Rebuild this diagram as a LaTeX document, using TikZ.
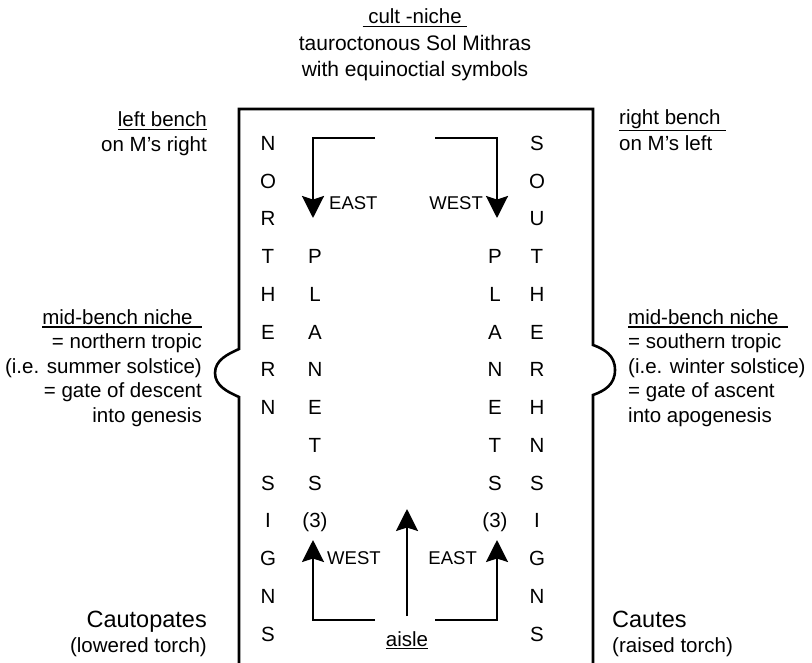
\documentclass[tikz,border=0pt]{standalone}
\usepackage{fontspec}
\setmainfont{Liberation Sans}
\usetikzlibrary{arrows.meta}
\newcommand\myul[2][2pt]{\leavevmode\setbox0\hbox{#2}\rlap{\rule[\dimexpr-\dp0-#1-1.4pt\relax]{\wd0}{1.4pt}}\box0}
\begin{document}
\begin{tikzpicture}[x=1pt,y=-1pt,
  txt/.style={inner sep=0pt, font=\fontsize{20.5}{24.5}\selectfont},
  big/.style={inner sep=0pt, font=\fontsize{23.5}{27}\selectfont},
  torch/.style={inner sep=0pt, font=\fontsize{20.5}{24}\selectfont},
  small/.style={inner sep=0pt, font=\fontsize{18.5}{22}\selectfont},
  wall/.style={line width=2.6pt, line join=miter},
  flow/.style={line width=2.6pt, -{Stealth[length=22pt,width=22pt,inset=3.5pt]}}]
\useasboundingbox (0,0) rectangle (812,662);

% walls of the mithraeum with the two mid-bench niches
\draw[wall] (239,675) -- (239,397) .. controls (228,392) and (215,386) .. (215,373)
  .. controls (215,360) and (228,354) .. (239,349) -- (239,109) -- (593,109)
  -- (593,345) .. controls (604,349) and (615,355) .. (615,370)
  .. controls (615,385) and (604,391) .. (593,395) -- (593,675);

% vertical lettering
\foreach \l [count=\i from 0] in {N,O,R,T,H,E,R,N,{},S,I,G,N,S}
  \node[txt,anchor=base] (ln\i) at (268,150.4+37.75*\i) {\l};
\foreach \l [count=\i from 0] in {S,O,U,T,H,E,R,H,N,S,I,G,N,S}
  \node[txt,anchor=base] (rn\i) at (537,150.4+37.75*\i) {\l};
\foreach \l [count=\i from 3] in {P,L,A,N,E,T,S,{(3)}}
  \node[txt,anchor=base] (lp\i) at (315,150.4+37.75*\i) {\l};
\foreach \l [count=\i from 3] in {P,L,A,N,E,T,S,{(3)}}
  \node[txt,anchor=base] (rp\i) at (495,150.4+37.75*\i) {\l};

% arrows
\coordinate (tl0) at (375,138); \coordinate (tl1) at (313,218);
\coordinate (tr0) at (435,138); \coordinate (tr1) at (497,218);
\coordinate (bl0) at (375,620); \coordinate (bl1) at (313,540);
\coordinate (br0) at (435,620); \coordinate (br1) at (497,540);
\coordinate (bm0) at (407,616); \coordinate (bm1) at (407,509);
\draw[flow] (tl0) -| (tl1);
\draw[flow] (tr0) -| (tr1);
\draw[flow] (bl0) -| (bl1);
\draw[flow] (br0) -| (br1);
\draw[flow] (bm0) -- (bm1);

\node[small,anchor=base west] (east1) at (329,209.6) {EAST};
\node[small,anchor=base east] (west1) at (483,209.6) {WEST};
\node[small,anchor=base west] (west2) at (327,564.6) {WEST};
\node[small,anchor=base east] (east2) at (477,564.6) {EAST};

% top
\node[txt,anchor=base] (cult) at (415,23.5) {\myul{\ cult -niche\ }};
\node[txt,anchor=base,font=\fontsize{21}{25}\selectfont] (tauro) at (415,50) {tauroctonous Sol Mithras};
\node[txt,anchor=base,font=\fontsize{21}{25}\selectfont] (equi) at (415,76) {with equinoctial symbols};

% benches
\node[txt,anchor=base east] (lb1) at (207,126) {\myul[2.5pt]{left bench}};
\node[txt,anchor=base east] (lb2) at (207,151.5) {on M’s right};
\node[txt,anchor=base west] (rb1) at (619,124.5) {\myul[1pt]{right bench\ }};
\node[txt,anchor=base west] (rb2) at (619,150) {on M’s left};

% mid-bench niches
\foreach \t [count=\i from 0] in {{\myul{mid-bench niche\ \,}},{= northern tropic},{(i.e. summer solstice)},{= gate of descent},{into genesis}}
  \node[txt,anchor=base east] (ml\i) at (202,324+24.5*\i) {\t};
\foreach \t [count=\i from 0] in {{\myul{mid-bench niche\ \,}},{= southern tropic},{(i.e. winter solstice)},{= gate of ascent},{into apogenesis}}
  \node[txt,anchor=base west] (mr\i) at (628,324+24.5*\i) {\t};

% torch bearers
\node[big,anchor=base east] (cp1) at (207,627) {Cautopates};
\node[torch,anchor=base east] (cp2) at (207,652) {(lowered torch)};
\node[big,anchor=base west] (ca1) at (612,627) {Cautes};
\node[torch,anchor=base west] (ca2) at (612,652) {(raised torch)};

\node[txt,anchor=base] (aisle) at (407,646) {\myul[1.5pt]{aisle}};
\end{tikzpicture}
\end{document}
